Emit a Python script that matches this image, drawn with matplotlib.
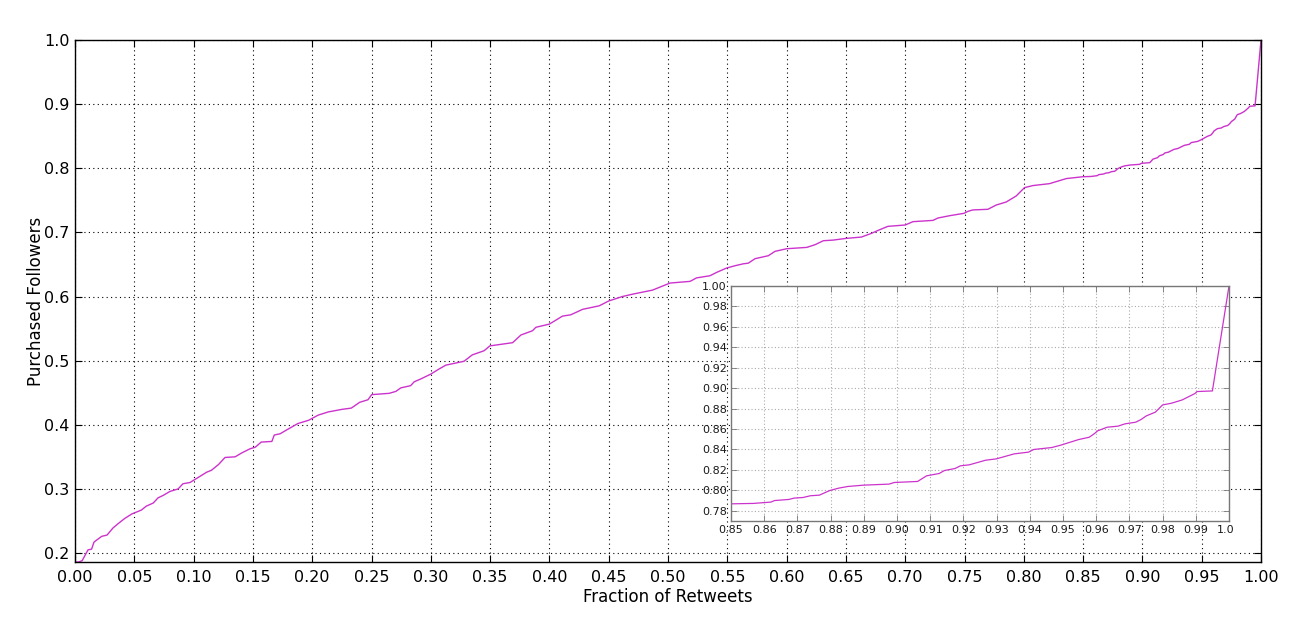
import matplotlib
matplotlib.use("Agg")
import matplotlib.pyplot as plt
from matplotlib.transforms import Bbox, TransformedBbox

# Fraction of retweets (x) vs fraction of purchased followers (y)
frac_retweets = [
    0.0, 0.003, 0.006, 0.011, 0.014, 0.016, 0.0225, 0.027, 0.032, 0.0365, 0.042, 0.048,
    0.056, 0.060, 0.066, 0.070, 0.0745, 0.080, 0.087, 0.091, 0.097, 0.104, 0.111, 0.115,
    0.121, 0.1265, 0.135, 0.1405, 0.1475, 0.152, 0.157, 0.166, 0.168, 0.173, 0.1785,
    0.188, 0.197, 0.205, 0.2135, 0.225, 0.233, 0.240, 0.247, 0.2502, 0.2649, 0.2705,
    0.2747, 0.283, 0.286, 0.2916, 0.300, 0.307, 0.3127, 0.328, 0.335, 0.345, 0.3498,
    0.369, 0.376, 0.3857, 0.3886, 0.400, 0.411, 0.418, 0.428, 0.442, 0.450, 0.4616,
    0.470, 0.487, 0.5017, 0.5186, 0.524, 0.5354, 0.541, 0.5494, 0.5565, 0.5635, 0.5677,
    0.5734, 0.5846, 0.5902, 0.600, 0.617, 0.624, 0.631, 0.6394, 0.650, 0.663, 0.6714,
    0.677, 0.6854, 0.700, 0.7065, 0.7234, 0.7276, 0.7374, 0.7495, 0.7529, 0.757, 0.7697,
    0.7768, 0.7852, 0.7936, 0.8006, 0.8077, 0.8217, 0.8302, 0.8358, 0.850,
    0.8567, 0.862, 0.8631, 0.8674, 0.869, 0.8717, 0.8739, 0.8766, 0.8798, 0.8825, 0.8852,
    0.8900, 0.8976, 0.8992, 0.9062, 0.9089, 0.9127, 0.9143, 0.9175, 0.9191, 0.9218,
    0.9267, 0.9299, 0.9353, 0.9396, 0.9412, 0.9466, 0.9493, 0.9547, 0.9579, 0.9595,
    0.9604, 0.9622, 0.9633, 0.9665, 0.9687, 0.9719, 0.9735, 0.9751, 0.9778, 0.9800,
    0.9827, 0.9859, 0.9881, 0.9897, 0.9904, 0.9950, 1.0,
]
purchased_followers = [
    0.186, 0.186, 0.188, 0.205, 0.206, 0.217, 0.226, 0.228, 0.239, 0.246, 0.254, 0.261,
    0.267, 0.273, 0.278, 0.286, 0.290, 0.296, 0.300, 0.308, 0.310, 0.318, 0.326, 0.329,
    0.338, 0.349, 0.350, 0.356, 0.3625, 0.365, 0.373, 0.374, 0.384, 0.386, 0.392,
    0.402, 0.407, 0.415, 0.420, 0.424, 0.426, 0.435, 0.439, 0.447, 0.449, 0.452,
    0.4575, 0.461, 0.467, 0.4715, 0.479, 0.487, 0.493, 0.499, 0.509, 0.5155, 0.523,
    0.528, 0.540, 0.5466, 0.552, 0.557, 0.5694, 0.5715, 0.580, 0.5855, 0.593, 0.600,
    0.6036, 0.610, 0.621, 0.6236, 0.629, 0.6324, 0.6376, 0.6444, 0.648, 0.651, 0.652,
    0.659, 0.6636, 0.6704, 0.6745, 0.6766, 0.6808, 0.687, 0.688, 0.6906, 0.6927, 0.6984,
    0.703, 0.7094, 0.7115, 0.7167, 0.7187, 0.7224, 0.726, 0.7297, 0.7328, 0.735, 0.736,
    0.7427, 0.7474, 0.7568, 0.7698, 0.773, 0.776, 0.7807, 0.7839, 0.7868,
    0.7872, 0.7885, 0.7900, 0.7911, 0.7924, 0.7930, 0.7947, 0.7953, 0.7999, 0.8022, 0.8038,
    0.8051, 0.8061, 0.8077, 0.8087, 0.8142, 0.8165, 0.8194, 0.8214, 0.8240, 0.8250,
    0.8295, 0.8308, 0.8357, 0.8374, 0.8400, 0.8419, 0.8442, 0.8497, 0.8520, 0.8556,
    0.8582, 0.8605, 0.8618, 0.8628, 0.8651, 0.8667, 0.8693, 0.8729, 0.8765, 0.8836,
    0.8853, 0.8885, 0.8921, 0.8947, 0.8967, 0.8973, 1.0,
]

main_xticks = [i / 20 for i in range(21)]
main_yticks = [0.2, 0.3, 0.4, 0.5, 0.6, 0.7, 0.8, 0.9, 1.0]
inset_xticks = [0.85 + i / 100 for i in range(16)]
inset_yticks = [0.78 + i / 50 for i in range(12)]

LINE_COLOR = "#cc33cc"

plt.rcParams["font.family"] = "DejaVu Sans"
fig = plt.figure(figsize=(13.11, 6.26), dpi=100, facecolor="white")

# ---- main axes ----
ax = fig.add_axes([75 / 1311, 1 - 562 / 626, (1261 - 75) / 1311, (562 - 40) / 626])
ax.plot(frac_retweets, purchased_followers, color=LINE_COLOR, lw=1.0)
ax.set_xlim(0.0, 1.0)
ax.set_ylim(0.186, 1.0)
ax.set_xticks(main_xticks)
ax.set_xticklabels([f"{t:.2f}" for t in main_xticks])
ax.set_yticks(main_yticks)
ax.set_yticklabels([f"{t:.1f}" for t in main_yticks])
ax.tick_params(direction="in", top=True, right=True, length=5, width=0.8,
               labelsize=11.5)
ax.tick_params(axis="x", pad=6)
ax.tick_params(axis="y", pad=4)
ax.grid(True, linestyle=(0, (1, 3)), color="black", linewidth=0.8)
for s in ax.spines.values():
    s.set_linewidth(1.0)
ax.set_xlabel("Fraction of Retweets", fontsize=12, labelpad=2)
ax.set_ylabel("Purchased Followers", fontsize=12, labelpad=-1)

# ---- inset axes ----
iax = fig.add_axes([731 / 1311, 1 - 521 / 626, (1229 - 731) / 1311, (521 - 286) / 626])
iax.set_facecolor("white")
iax.plot(frac_retweets, purchased_followers, color=LINE_COLOR, lw=0.9)
iax.set_xlim(0.85, 1.0)
iax.set_ylim(0.77, 1.0)
iax.set_xticks(inset_xticks)
iax.set_xticklabels([f"{t:.2f}" for t in inset_xticks])
iax.set_yticks(inset_yticks)
iax.set_yticklabels([f"{t:.2f}" for t in inset_yticks])
iax.tick_params(direction="in", top=True, right=True, length=4, width=0.6,
                labelsize=8, colors="#777777", labelcolor="#1a1a1a")
iax.tick_params(axis="x", pad=3)
iax.tick_params(axis="y", pad=3)
iax.grid(True, linestyle=(0, (1, 2)), color="#aaaaaa", linewidth=0.8)
for s in iax.spines.values():
    s.set_color("#777777")
    s.set_linewidth(1.0)

# the last inset tick label is cut off in the reference
clip = TransformedBbox(Bbox([[0, 0], [1233 / 1311, 1]]), fig.transFigure)
for lab in iax.get_xticklabels():
    lab.set_clip_box(clip)
    lab.set_clip_on(True)

fig.savefig("out.png", dpi=100, facecolor="white")
